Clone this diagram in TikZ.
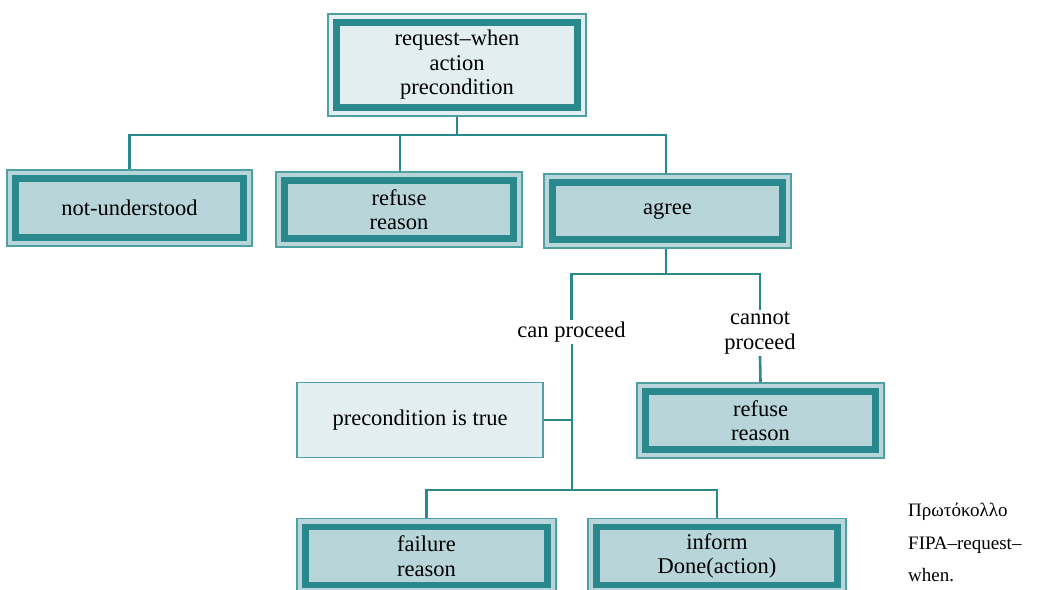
\documentclass[tikz,border=0pt]{standalone}
\usepackage{fontspec}
\setmainfont{Liberation Serif}
\definecolor{tealdark}{HTML}{2A898C}
\definecolor{teallight}{HTML}{4FA0A3}
\definecolor{boxfill}{HTML}{B8D5DA}
\definecolor{palefill}{HTML}{E3EEF0}
\begin{document}
\begin{tikzpicture}[x=1pt,y=-1pt,
  every node/.style={font=\fontsize{22.5}{24.5}\selectfont, align=center, inner sep=0pt},
  framed/.style={rectangle, draw=teallight, line width=1.6pt, fill=boxfill,
    minimum width=#1,
    path picture={\draw[tealdark, line width=6.5pt]
      ([shift={(8.5pt,8.5pt)}]path picture bounding box.south west) rectangle
      ([shift={(-8.5pt,-8.5pt)}]path picture bounding box.north east);}},
  framed/.default=246pt,
  plainbox/.style={rectangle, draw=teallight, line width=1.6pt, fill=palefill,
    minimum width=246pt, minimum height=75pt},
  link/.style={draw=tealdark, line width=2.6pt},
  lbl/.style={fill=white, inner sep=2pt}]
\useasboundingbox (0,0) rectangle (1054,589);

% top request box
\node[framed=258pt, fill=palefill, minimum height=102pt] (top) at (457,65)
  {request--when\\action\\precondition};

% first row of answers
\node[framed=245pt, minimum height=76pt] (nu) at (129.5,208) {not-understood};
\node[framed=246pt, minimum height=75pt] (ref1) at (399,209.5) {refuse\\reason};
\node[framed=247pt, minimum height=74pt] (agree) at (667.5,211) {agree};

% branch labels after agree
\node[lbl] (can) at (571.5,332) {can proceed};
\node[lbl] (cannot) at (760,333) {cannot\\proceed};

\node[plainbox] (pre) at (420,420) {precondition is true};
\node[framed=247pt, minimum height=75pt] (ref2) at (760.5,420.5) {refuse\\reason};

% final results
\node[framed=259pt, minimum height=75pt] (fail) at (426.5,556) {failure\\reason};
\node[framed=258pt, minimum height=75pt] (inform) at (717,556) {inform\\Done(action)};

% side caption
\node[anchor=north west, align=left, font=\fontsize{19}{32.5}\selectfont] (cap) at (908,503)
  {Πρωτόκολλο\\FIPA--request--\\when.};

% connectors: top box to first row
\coordinate (j1) at (457,135);
\coordinate (ag) at (666,0);
\coordinate (rf) at (400,0);
\draw[link] (top.south) -- (j1);
\draw[link] (nu.north) -- (nu.north |- j1) -- (ag |- j1) -- (ag |- agree.north);
\draw[link] (rf |- j1) -- (rf |- ref1.north);

% connectors: agree to branches
\coordinate (j2) at (666,274);
\draw[link] (ag |- agree.south) -- (j2);
\draw[link] (can.north) -- (can.north |- j2) -- (cannot.north |- j2) -- (cannot.north);
\draw[link] (cannot.south) -- (ref2.north);

% can proceed trunk
\coordinate (j3) at (572,490);
\draw[link] (j3 |- can.south) -- (j3);
\draw[link] (pre.east) -- (j3 |- pre.east);
\draw[link] (fail.north) -- (fail.north |- j3) -- (inform.north |- j3) -- (inform.north);
\end{tikzpicture}
\end{document}
